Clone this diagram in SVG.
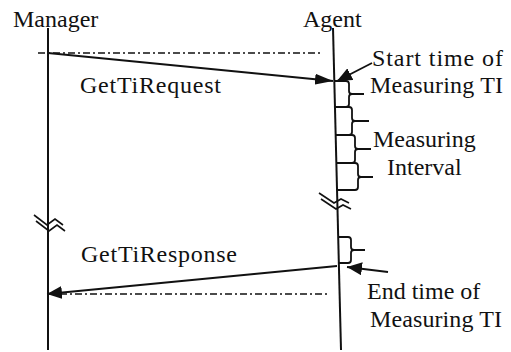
<svg xmlns="http://www.w3.org/2000/svg" width="511" height="352" viewBox="0 0 511 352">
<style>
  text { font-family: "Liberation Serif", "Times New Roman", serif; font-size: 24px; fill: #111; }
  .life { stroke: #111; stroke-width: 2; fill: none; }
  .msg { stroke: #111; stroke-width: 1.8; fill: none; }
  .dd { stroke: #111; stroke-width: 1.5; fill: none; stroke-dasharray: 7 3 2 3; }
  .br { stroke: #111; stroke-width: 1.8; fill: none; }
  .brk { stroke: #111; stroke-width: 1.6; fill: none; }
</style>
<defs>
  <marker id="arr" markerUnits="userSpaceOnUse" markerWidth="18" markerHeight="11" refX="18" refY="5.5" orient="auto">
    <path d="M0,0 L18,5.5 L0,11 z" fill="#111"/>
  </marker>
  <marker id="arrW" markerUnits="userSpaceOnUse" markerWidth="15" markerHeight="13" refX="15" refY="6.5" orient="auto">
    <path d="M0,0 L15,6.5 L0,13 z" fill="#111"/>
  </marker>
</defs>
<rect width="511" height="352" fill="#fff"/>

<g id="manager">
  <text x="13" y="27">Manager</text>
  <line class="life" x1="48" y1="28" x2="48" y2="350"/>
  <path class="brk" d="M34,215 L47,225 L55,219 L63,225 M36,221 L49,231 L57,225 L65,231"/>
</g>

<g id="agent">
  <text x="303" y="27">Agent</text>
  <line class="life" x1="333" y1="28" x2="341" y2="350"/>
  <path class="brk" d="M319,193 L334,203 L341,199 L349,203 M321,199 L336,209 L343,205 L351,209"/>
</g>

<g id="intervals">
  <path class="br" d="M334,81 H346 Q349,81 349,84 V91 Q349,94 352,94 H364 M352,94 Q349,94 349,97 V104 Q349,107 346,107 H334"/>
  <path class="br" d="M335,107 H349 Q352,107 352,110 V118 Q352,121 355,121 H369 M355,121 Q352,121 352,124 V132 Q352,135 349,135 H335"/>
  <path class="br" d="M336,135 H352 Q355,135 355,138 V146 Q355,149 358,149 H371 M358,149 Q355,149 355,152 V160 Q355,163 352,163 H336"/>
  <path class="br" d="M337,163 H355 Q358,163 358,166 V174 Q358,177 361,177 H373 M361,177 Q358,177 358,180 V187 Q358,190 355,190 H337"/>
  <path class="br" d="M339,237 H348 Q351,237 351,240 V247 Q351,250 354,250 H365 M354,250 Q351,250 351,253 V260 Q351,263 348,263 H339"/>
</g>

<g id="start-label">
  <text x="372" y="66" textLength="131" lengthAdjust="spacing">Start time of</text>
  <text x="370" y="93" textLength="133" lengthAdjust="spacing">Measuring TI</text>
</g>
<g id="interval-label">
  <text x="373" y="147">Measuring</text>
  <text x="387" y="175">Interval</text>
</g>
<g id="end-label">
  <text x="367" y="299">End time of</text>
  <text x="370" y="327" textLength="132" lengthAdjust="spacing">Measuring TI</text>
</g>

<g id="connectors">
  <line class="dd" x1="38" y1="53" x2="323" y2="53"/>
  <line class="msg" x1="48" y1="53" x2="333" y2="81" marker-end="url(#arr)"/>
  <text x="80" y="93" textLength="141" lengthAdjust="spacing">GetTiRequest</text>
  <line class="msg" x1="372" y1="63" x2="337" y2="81" marker-end="url(#arrW)"/>
  <line class="msg" x1="337" y1="266" x2="47" y2="294" marker-end="url(#arrW)"/>
  <text x="81" y="262" textLength="156" lengthAdjust="spacing">GetTiResponse</text>
  <line class="dd" x1="60" y1="294" x2="328" y2="294"/>
  <line class="msg" x1="388" y1="272" x2="347" y2="267" marker-end="url(#arrW)"/>
</g>
</svg>
